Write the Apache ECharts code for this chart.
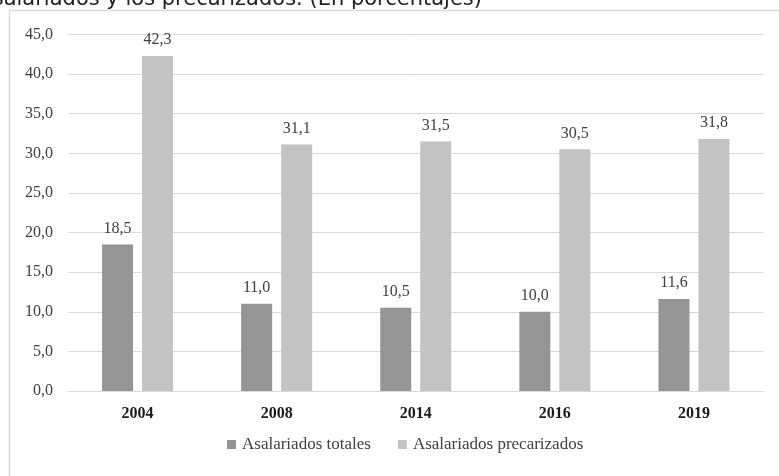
<!DOCTYPE html>
<html>
<head>
<meta charset="utf-8">
<script src="https://cdn.jsdelivr.net/npm/echarts@6/dist/echarts.min.js"></script>
<style>
  html, body { margin: 0; padding: 0; background: #fff; }
  #chart { width: 779px; height: 476px; }
</style>
</head>
<body>
<div id="chart"></div>
<script>
// Years on the category axis
const years = ['2004', '2008', '2014', '2016', '2019'];
// Share of wage earners (percent)
const asalariadosTotales = [18.5, 11.0, 10.5, 10.0, 11.6];
const asalariadosPrecarizados = [42.3, 31.1, 31.5, 30.5, 31.8];
// Value axis ticks
const yMin = 0, yMax = 45, yStep = 5;

const fmt = v => Number(v).toFixed(1).replace('.', ',');
const serif = '"Liberation Serif", "Times New Roman", serif';

const chart = echarts.init(document.getElementById('chart'), null, { renderer: 'canvas' });

const labelStyle = {
  show: true,
  position: 'top',
  distance: 8,
  fontFamily: serif,
  fontSize: 16,
  color: '#404040',
  formatter: p => fmt(p.value)
};

chart.setOption({
  animation: false,
  backgroundColor: '#ffffff',
  graphic: [
    {
      type: 'text',
      silent: true,
      style: {
        text: 'Asalariados y los precarizados. (En porcentajes)',
        x: 482, y: 10,
        textAlign: 'right',
        textVerticalAlign: 'bottom',
        fontFamily: '"DejaVu Sans", sans-serif',
        fontSize: 21,
        fill: '#222'
      }
    },
    {
      type: 'polyline',
      silent: true,
      shape: { points: [[9.5, 476], [9.5, 10.5], [779, 10.5]] },
      style: { stroke: '#d9d9d9', lineWidth: 1.5, fill: null }
    }
  ],
  grid: { left: 68, right: 15.5, top: 34.5, bottom: 85 },
  legend: {
    bottom: 18,
    left: 222,
    itemWidth: 9,
    itemHeight: 9,
    itemGap: 27,
    icon: 'rect',
    textStyle: { fontFamily: serif, fontSize: 17, color: '#404040', padding: [0, 0, 0, 1] },
    data: ['Asalariados totales', 'Asalariados precarizados']
  },
  xAxis: {
    type: 'category',
    data: years,
    axisLine: { show: true, lineStyle: { color: '#d9d9d9', width: 1 } },
    axisTick: { show: false },
    axisLabel: {
      margin: 15,
      fontFamily: serif,
      fontSize: 16,
      fontWeight: 'bold',
      color: '#1a1a1a'
    }
  },
  yAxis: {
    type: 'value',
    min: yMin,
    max: yMax,
    interval: yStep,
    axisLine: { show: false },
    axisTick: { show: false },
    splitLine: { lineStyle: { color: '#d9d9d9', width: 1 } },
    axisLabel: {
      margin: 15,
      fontFamily: serif,
      fontSize: 16,
      color: '#404040',
      formatter: v => fmt(v)
    }
  },
  series: [
    {
      name: 'Asalariados totales',
      type: 'bar',
      data: asalariadosTotales,
      barWidth: 31,
      barGap: '29%',
      itemStyle: { color: '#959595' },
      label: labelStyle
    },
    {
      name: 'Asalariados precarizados',
      type: 'bar',
      data: asalariadosPrecarizados,
      barWidth: 31,
      barGap: '29%',
      itemStyle: { color: '#c3c3c3' },
      label: labelStyle
    }
  ]
});
</script>
</body>
</html>
